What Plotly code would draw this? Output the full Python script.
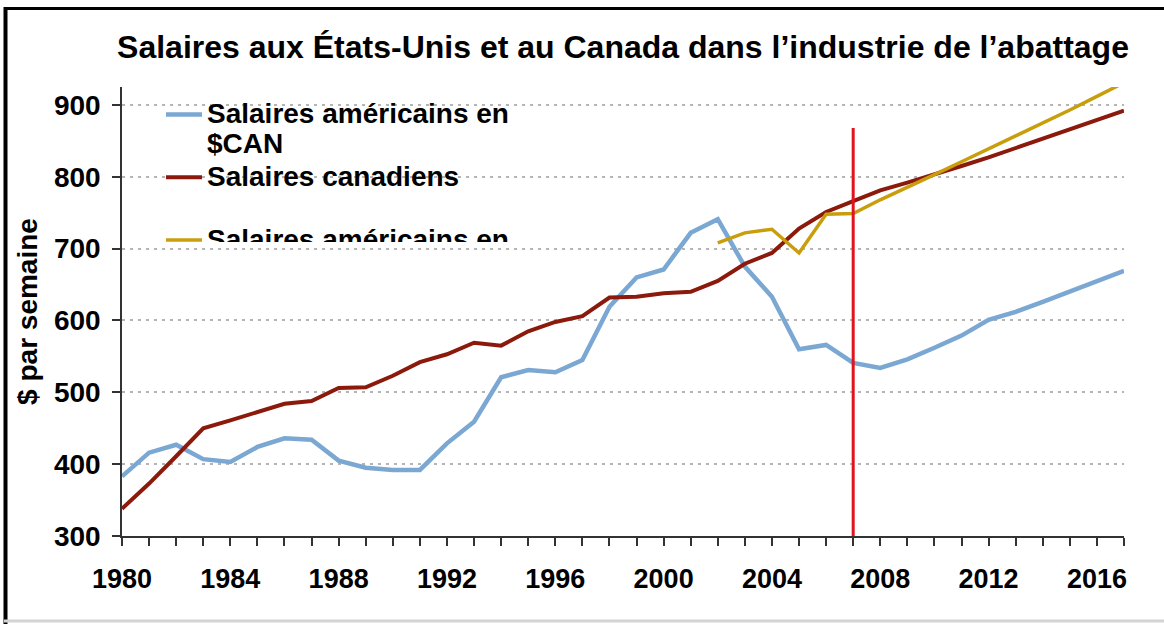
import plotly.graph_objects as go

years = list(range(1980, 2018))
us_cad = [383, 416, 427, 407, 403, 424, 436, 434, 405, 395, 392, 392, 429, 459, 521, 531, 528, 545,
          619, 660, 671, 722, 741, 675, 633, 560, 566, 541, 534, 546, 562, 579, 601, 612, 626, 640, 654, 669]
canada = [338, 373, 411, 450, 461, 472, 484, 488, 506, 507, 523, 542, 553, 569, 565, 585, 598, 606,
          632, 633, 638, 640, 655, 679, 694, 728, 751, 766, 781, 792, 803, 815, 827, 840, 852, 866, 878, 892]
years_gold = list(range(2002, 2018))
us_gold = [708, 722, 727, 694, 748, 749, 768, 785, 803, 821, 839, 857, 874, 893, 912, 931]

marker_year = 2007
marker_top = 868

title_text = "Salaires aux États-Unis et au Canada dans l’industrie de l’abattage"
y_title = "$ par semaine"
names = [["Salaires américains en", "$CAN"], ["Salaires canadiens", "&nbsp;"], ["Salaires américains en"]]

W, H = 1164, 624
L, R, T, B = 122, 1124, 87, 536
FONT = "Liberation Sans, Arial, sans-serif"


def px_x(p):
    return (p - L) / (R - L)


def px_y(p):
    return (B - p) / (B - T)


def lname(lines):
    return "<br>".join("<span style='font-size:28px'>%s</span>" % s for s in lines)


fig = go.Figure()
fig.add_trace(go.Scatter(x=years, y=us_cad, mode="lines", name=lname(names[0]),
                         line=dict(color="#7ba7d3", width=4.5)))
fig.add_trace(go.Scatter(x=years, y=canada, mode="lines", name=lname(names[1]),
                         line=dict(color="#8c1a0c", width=4)))
fig.add_trace(go.Scatter(x=years_gold, y=us_gold, mode="lines", name=lname(names[2]),
                         line=dict(color="#c99e0c", width=3.5)))

shapes = [
    # cover gridlines behind legend
    dict(type="rect", xref="paper", yref="paper", x0=px_x(128), x1=px_x(548), y0=px_y(243), y1=px_y(94),
         fillcolor="white", line=dict(width=0), layer="between"),
    dict(type="line", xref="x", yref="y", x0=marker_year, x1=marker_year, y0=300, y1=marker_top,
         line=dict(color="#e0141e", width=3), layer="above"),
    # frame
    dict(type="line", xref="paper", yref="paper", x0=px_x(5.5), x1=px_x(5.5), y0=px_y(7), y1=px_y(626),
         line=dict(color="black", width=4)),
    dict(type="line", xref="paper", yref="paper", x0=px_x(4), x1=px_x(1170), y0=px_y(8.5), y1=px_y(8.5),
         line=dict(color="black", width=3)),
    dict(type="line", xref="paper", yref="paper", x0=px_x(4), x1=px_x(1170), y0=px_y(621), y1=px_y(621),
         line=dict(color="#d4d4d4", width=3)),
]

fig.update_layout(
    width=W, height=H,
    margin=dict(l=L, r=W - R, t=T, b=H - B),
    paper_bgcolor="white", plot_bgcolor="white",
    font=dict(family=FONT, color="black", weight="bold"),
    title=dict(text=title_text, x=0.5, xref="paper", xanchor="center", y=1 - 47 / H, yanchor="middle",
               font=dict(size=32, family=FONT, color="black", weight="bold")),
    xaxis=dict(range=[1980, 2017], tick0=1980, dtick=4, ticks="outside", ticklen=8, tickwidth=1.5,
               tickcolor="#333", showline=True, linecolor="#333", linewidth=1.5, showgrid=False,
               tickfont=dict(size=27, family=FONT, weight="bold"), ticklabelstandoff=10,
               minor=dict(dtick=1, ticks="outside", ticklen=8, tickwidth=1.5, tickcolor="#333", showgrid=False),
               zeroline=False),
    yaxis=dict(range=[300, 925], dtick=100, ticks="outside", ticklen=8, tickwidth=1.5, tickcolor="#333",
               showline=True, linecolor="#333", linewidth=1.5, showgrid=True, gridcolor="#b5b5b5",
               gridwidth=1.5, griddash="3px,5px", zeroline=False, ticklabelstandoff=6,
               tickfont=dict(size=28, family=FONT, weight="bold"),
               title=dict(text=y_title, font=dict(size=28, family=FONT, weight="bold"), standoff=8)),
    legend=dict(x=px_x(161), y=px_y(93), xanchor="left", yanchor="top", bgcolor="rgba(0,0,0,0)",
                borderwidth=0, valign="top", font=dict(size=23, family=FONT, weight="bold"),
                maxheight=149, itemwidth=36),
    shapes=shapes,
    showlegend=True,
)

post = ("document.body.style.margin='0px';"
        "var gd=document.getElementById('{plot_id}');"
        "function hideSb(){gd.querySelectorAll('.legend .scrollbar').forEach(function(e){e.style.display='none';});}"
        "hideSb();gd.on('plotly_afterplot',hideSb);")
fig.write_html("out.html", post_script=post, config={"displayModeBar": False})
